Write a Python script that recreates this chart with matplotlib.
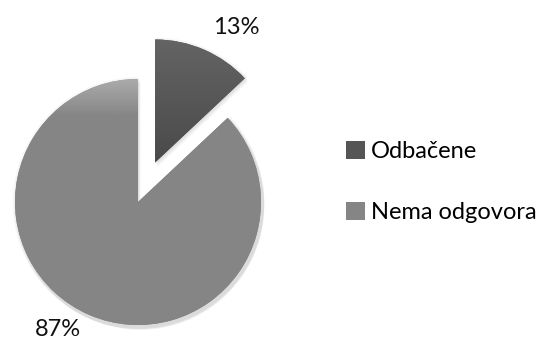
import numpy as np
import matplotlib
matplotlib.use("Agg")
import matplotlib.pyplot as plt
from matplotlib.colors import LinearSegmentedColormap

categories = ["Odbačene", "Nema odgovora"]
shares = [13, 87]
explode = [0.35, 0.0]

plt.rcParams["font.family"] = ["Lato", "DejaVu Sans"]

W, H, DPI = 546, 345, 100
fig = plt.figure(figsize=(W / DPI, H / DPI), dpi=DPI)
ax = fig.add_axes([0, 0, 1, 1])

# one data unit equals the pie radius in pixels
R_PX = 123.0
cx, cy = 138.0, H - 202.0

base_colors = ["#555555", "#858585"]
top_colors = ["#646464", "#ababab"]
bottom_colors = ["#4a4a4a", "#858585"]

wedges, _ = ax.pie(shares, explode=explode, startangle=90, counterclock=False,
                   colors=base_colors, radius=1.0, center=(0, 0), frame=True,
                   wedgeprops=dict(linewidth=0))
ax.set_aspect("equal")
ax.set_axis_off()

# soft drop shadow behind each slice
for w in wedges:
    for k in range(6):
        d = 0.006 * (k + 1)
        sh = matplotlib.patches.Wedge((w.center[0] + d * 0.6, w.center[1] - d),
                                      w.r + 0.004 * (6 - k), w.theta1, w.theta2,
                                      facecolor="black", alpha=0.025, linewidth=0,
                                      zorder=0.5)
        ax.add_patch(sh)

# vertical shading inside the slices
for w, ctop, cbot in zip(wedges, top_colors, bottom_colors):
    w.set_zorder(1)
    cmap = LinearSegmentedColormap.from_list("shade", [cbot, cbot, ctop])
    x0, y0 = w.center
    grad = np.linspace(0, 1, 256).reshape(-1, 1)
    if w.theta2 - w.theta1 > 180:
        # big slice: light only near the top rim
        g = np.clip((grad - 0.70) / 0.30, 0, 1)
    else:
        g = grad
    im = ax.imshow(g, cmap=cmap, vmin=0, vmax=1, origin="lower",
                   extent=(x0 - 1, x0 + 1, y0 - 1, y0 + 1), aspect="auto",
                   zorder=2, interpolation="bilinear")
    im.set_clip_path(w)

ax.set_xlim(-cx / R_PX, (W - cx) / R_PX)
ax.set_ylim(-cy / R_PX, (H - cy) / R_PX)

# percentage labels
label_pos = [(0.80, 1.42), (-0.65, -1.04)]
for v, (lx, ly) in zip(shares, label_pos):
    ax.text(lx, ly, f"{v}%", ha="center", va="center", fontsize=17, color="#111111")

# legend
handles = [matplotlib.patches.Patch(facecolor=c, edgecolor="none") for c in base_colors]
leg = fig.legend(handles, categories, loc="center left", bbox_to_anchor=(346 / W, 1 - 182 / H),
                 frameon=False, fontsize=17, handlelength=0.8, handleheight=0.8,
                 handletextpad=0.25, labelspacing=1.7, borderpad=0, borderaxespad=0)

fig.savefig("out.png", dpi=DPI)
